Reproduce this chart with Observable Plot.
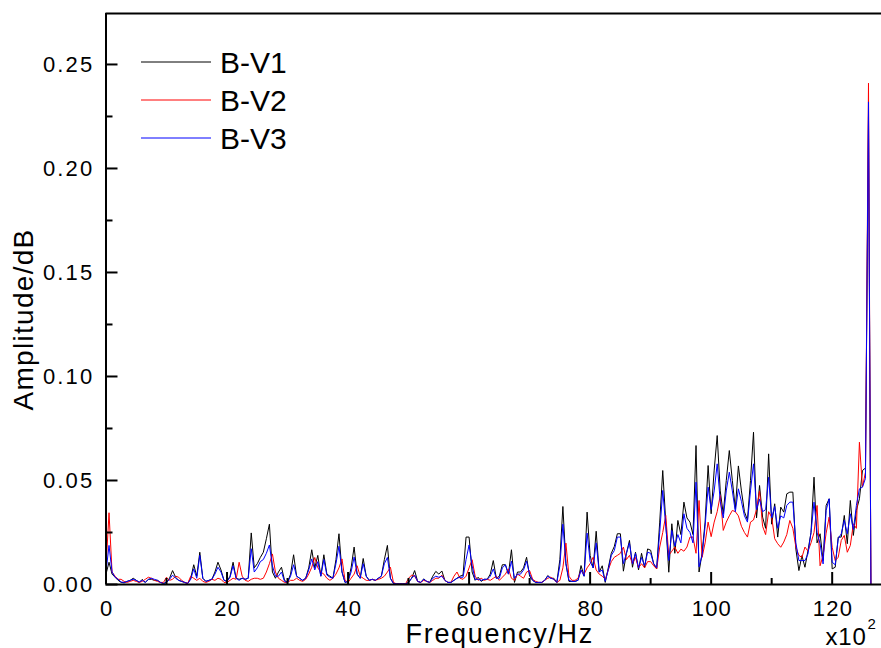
<!DOCTYPE html>
<html><head><meta charset="utf-8">
<script src="https://cdn.jsdelivr.net/npm/d3@7"></script>
<script src="https://cdn.jsdelivr.net/npm/@observablehq/plot@0.6"></script>
<style>body{margin:0;background:#fff} svg{display:block}</style>
</head><body><div id="chart"></div>
<script>
// Frequency bins (x10^2 Hz)
const freq = [
0,0.5,1,1.5,2,2.5,3,3.5,4,4.5, 5,5.5,6,6.5,7,7.5,8,8.5,9,9.5,
10,10.5,11,11.5,12,12.5,13,13.5,14,14.5, 15,15.5,16,16.5,17,17.5,18,18.5,19,19.5,
20,20.5,21,21.5,22,22.5,23,23.5,24,24.5, 25,25.5,26,26.5,27,27.5,28,28.5,29,29.5,
30,30.5,31,31.5,32,32.5,33,33.5,34,34.5, 35,35.5,36,36.5,37,37.5,38,38.5,39,39.5,
40,40.5,41,41.5,42,42.5,43,43.5,44,44.5, 45,45.5,46,46.5,47,47.5,48,48.5,49,49.5,
50,50.5,51,51.5,52,52.5,53,53.5,54,54.5, 55,55.5,56,56.5,57,57.5,58,58.5,59,59.5,
60,60.5,61,61.5,62,62.5,63,63.5,64,64.5, 65,65.5,66,66.5,67,67.5,68,68.5,69,69.5,
70,70.5,71,71.5,72,72.5,73,73.5,74,74.5, 75,75.5,76,76.5,77,77.5,78,78.5,79,79.5,
80,80.5,81,81.5,82,82.5,83,83.5,84,84.5, 85,85.5,86,86.5,87,87.5,88,88.5,89,89.5,
90,90.5,91,91.5,92,92.5,93,93.5,94,94.5, 95,95.5,96,96.5,97,97.5,98,98.5,99,99.5,
100,100.5,101,101.5,102,102.5,103,103.5,104,104.5, 105,105.5,106,106.5,107,107.5,108,108.5,109,109.5,
110,110.5,111,111.5,112,112.5,113,113.5,114,114.5, 115,115.5,116,116.5,117,117.5,118,118.5,119,119.5,
120,120.5,121,121.5,122,122.5,123,123.5,124,124.5, 125,125.5,126,126.4
];
// Amplitudes, in units of 10^-3
const bv1 = [
5,10.7,5,3.5,2,1,0.8,1.5,2,3, 2,1,2.5,1,2.5,2.5,2,2,1,0.5,
1,3,6.7,3.5,2,1.5,1,0.5,3,9.5, 4,15.5,3,1.5,2,2.5,6,10.7,7,2,
1.5,4,10.7,3,2.5,3,2.5,3,24.8,8, 10,13,15.5,22,29,6,3,6,8.3,2,
1,5,14.3,4,3,2,3,8,16.7,8, 14,4,14.3,5,4,3,12,24.4,6,1,
1.5,8,18,5,3,12.5,4,2,2.5,2, 3,4,12,18.8,3,0.5,0.3,0.3,0.3,0.3,
1,3,6.7,1.5,1,2.7,1.5,1,4,6.3, 5,6.5,2,1,1,2,3,4,4.5,22.8,
22.8,6,2,3.5,1.5,2.5,2.5,5,11.5,3, 4,9.5,9.5,5,16.7,1,6,6,8,13.1,
4,2,1,1,1,2,4.3,3,3,1, 12,37.5,10,1.5,1.5,1.5,2,9.1,4,34.8,
14,8,25.6,6,9,1,8,15,18.3,24.4, 24.4,6.4,15,21.2,8.3,15.5,7,15,8,17.1,
16.5,10,7.5,30,54.8,30,5.9,29.2,15,30.8, 24,39.6,32,30,24,66.8,6,15,30,57.2,
34,55,71.6,45,34,50,64.4,50,36.4,57, 45,35,31,50,73.2,32,47.6,32.4,27,62.8,
29,38.8,22.8,37.2,34.8,43.6,44.4,44.4,17,6.7, 13.9,8.3,16.3,25,51.6,20,24.4,11.5,38,41.2,
7.5,8.3,22.8,22.8,33.2,19.6,40.4,23.6,35.6,41.2, 54.8,56,225,0
];
const bv2 = [
8,34.5,6,4,2.5,2.5,1.5,1,1.5,2, 1.5,1,1.5,2.5,3.5,3,2,1.5,1,1,
3.5,2,2.5,4,3.5,2,1,0.5,4,3, 2,3,1.5,1,1.5,2.5,2,3,2.5,1,
1,2,3,2.5,10.7,4,2,1.5,2.5,3, 3,2.5,3,6,10,14.7,6,3,2,1,
1,2,2,3,2,1.5,2.5,5,8.3,13, 8,6,5,3,2,3,5,8,12.3,2,
1,3,5,9,4,3,2,2,2.5,2, 2.5,3,4,6,8.3,1,0.3,0.3,0.3,0.3,
3,4.5,4,1.5,1,2,1.5,1,2,3, 3,4.5,2,1,1,4,6,3,2.5,4,
8,11.9,4,2,3,2,2.5,2,3,4, 2,3.5,5,7.5,3,2,5,4,3,6,
6.7,2.5,1.5,1,1,2,3,3.5,2.5,1, 2,8,19.9,4,2,2,3,6.7,5,8,
10,13.1,7,5,4,2.5,7,11,13.1,14, 15,18,12,14,10,13,8,10,8,11,
11,9,7.5,18,25,33.2,14,16,18,15, 17,16,18,22.8,22.8,15,40.4,13,20,30,
23,30,35,42.8,26,30,33,35.6,35,33, 28,25,22.8,30,31,36,45,28,24,35,
32.4,22,19.6,17.9,20.4,24,30.8,27,18,14, 13,18,16,20,25,38,9,13.9,24.7,32.4,
17.9,11.5,13.1,21.2,23.6,15.5,18.8,29.2,27,68.4, 46.8,54,241,0
];
const bv3 = [
6,18.8,6,3.5,2.5,1.2,1,1.5,2,2.5, 2,1.2,2,1,2.5,3,2.5,2,1,0.5,
1,2.5,4.5,3,2,1.5,1,0.5,2.5,7.5, 3,14,3,1.5,2,2.5,5,8.3,6,2,
1.5,3.5,9,3,2,3,2.5,3,17.2,6, 8,11,12,15,19,9,4,4,6,1.5,
1,4,9.5,4,3,2,3,7,12.3,7, 11,4,12,4.5,3.5,3,10,18.4,6,1,
1.5,6,13.2,5,3,10,4,2,2.5,2, 3,4,10,13,3,0.5,0.3,0.3,0.3,0.3,
1,3,4.5,1.5,1,2.5,1.5,1,3,4, 3.5,4,2,1,1,2,3,3.5,3.5,12,
19,9,2.5,2.5,2,2.5,2.5,4,7.5,3, 3,8,9.5,5,11.2,3,5,5,7,11.2,
5,2,1,1,1,2,4,3,2.5,1, 9,29,10,2,1.5,1.5,2,7,4,24.7,
11,8,20,6,7,1.5,7,14,16.3,22.8, 22.8,10,15,20,10,15,8,13,9,15.5,
15,10,8,25,45.2,28,11.5,26,18.5,24, 20,34,27,25,20,49.2,8.5,14,28,46.8,
36,45,58,40,32,45,54,45,35,46, 40,33,30,45,58,36,41,35,36,51.6,
32,37.5,27,33,32,38,39.6,39.6,20,11.5, 11.5,11.5,14.7,25,39.6,25,19.6,9.9,35.6,41.2,
10.7,9.5,22,24.4,30.8,24.4,34,26.4,38,46, 46.8,51,232,0
];
const seriesNames = ["B-V1", "B-V2", "B-V3"];
const seriesColors = ["#000000", "#ff0000", "#0000ff"];
const xMajor = [0, 20, 40, 60, 80, 100, 120];
const xMinor = [10, 30, 50, 70, 90, 110];
const yMajor = [0, 0.05, 0.10, 0.15, 0.20, 0.25];
const yMinor = [0.025, 0.075, 0.125, 0.175, 0.225];
const xTitle = "Frequency/Hz";
const yTitle = "Amplitude/dB";
const xMultiplier = "x10";
const xMultiplierExp = "2";

const rows = [];
[bv1, bv2, bv3].forEach((arr, i) => arr.forEach((v, j) => rows.push({f: freq[j], a: v / 1000, s: seriesNames[i]})));

const W = 881, H = 648, mL = 105.5, mT = 13, mB = 64;
const frameW = W - mL, frameH = H - mT - mB;
const font = "'Liberation Sans', Arial, sans-serif";

const plot = Plot.plot({
  width: W, height: H,
  marginLeft: mL, marginRight: 0, marginTop: mT, marginBottom: mB,
  style: {fontFamily: font, background: "#fff", color: "#000", overflow: "visible"},
  x: {domain: [0, 128.15], axis: null},
  y: {domain: [0, 0.2745], axis: null},
  color: {domain: seriesNames, range: seriesColors},
  marks: [
    Plot.line(rows, {x: "f", y: "a", z: "s", stroke: "s", strokeWidth: 1}),
    Plot.tickX(xMajor, {x: d => d, insetTop: frameH - 12, strokeWidth: 2}),
    Plot.tickX(xMinor, {x: d => d, insetTop: frameH - 6, strokeWidth: 2}),
    Plot.tickY(yMajor, {y: d => d, insetRight: frameW - 12, strokeWidth: 2}),
    Plot.tickY(yMinor, {y: d => d, insetRight: frameW - 7, strokeWidth: 2}),
    Plot.ruleX([0], {strokeWidth: 2}),
    Plot.ruleY([0], {strokeWidth: 2}),
    Plot.ruleY([0.2745], {strokeWidth: 2}),
    Plot.text(xMajor, {x: d => d, text: d => String(d), frameAnchor: "bottom", dx: 0.75, dy: 31, lineAnchor: "bottom", fontSize: 22}),
    Plot.text(yMajor, {y: d => d, text: d => d.toFixed(2), frameAnchor: "left", dx: -11.5, textAnchor: "end", lineAnchor: "middle", fontSize: 22}),
    Plot.text([yTitle], {frameAnchor: "left", rotate: -90, dx: -73.5, dy: 20.5, lineAnchor: "bottom", textAnchor: "middle", fontSize: 28}),
    Plot.text([xTitle], {frameAnchor: "bottom", dx: 6, dy: 58, lineAnchor: "bottom", fontSize: 27}),
    Plot.text([xMultiplier], {frameAnchor: "bottom-right", dx: -56, dy: 60, textAnchor: "start", lineAnchor: "bottom", fontSize: 24}),
    Plot.text([xMultiplierExp], {frameAnchor: "bottom-right", dx: -14, dy: 44, textAnchor: "start", lineAnchor: "bottom", fontSize: 15})
  ]
});

const svg = d3.select(plot);
// widen glyph spacing to match the reference's rendering
const xTickSet = new Set(xMajor.map(String));
const yTickSet = new Set(yMajor.map(d => d.toFixed(2)));
svg.selectAll("text").each(function() {
  const t = this.textContent;
  let ls = null;
  if (yTickSet.has(t)) ls = "2.2px";
  else if (xTickSet.has(t)) ls = "1.2px";
  else if (t === yTitle) ls = "1.3px";
  else if (t === xTitle) ls = "1.7px";
  else if (t === xMultiplier) ls = "0.8px";
  if (ls) this.style.letterSpacing = ls;
});

const lg = svg.append("g").attr("font-family", font).attr("text-anchor", "start");
seriesNames.forEach((n, i) => {
  const y = 62 + 38 * i;
  lg.append("line").attr("x1", 141).attr("x2", 211).attr("y1", y).attr("y2", y)
    .attr("stroke", seriesColors[i]).attr("stroke-width", 1);
  lg.append("text").attr("x", 220).attr("y", y).attr("dy", "0.36em")
    .attr("font-size", 30).attr("fill", "#000").attr("text-anchor", "start").text(n);
});
document.getElementById("chart").appendChild(plot);
</script>
</body></html>
